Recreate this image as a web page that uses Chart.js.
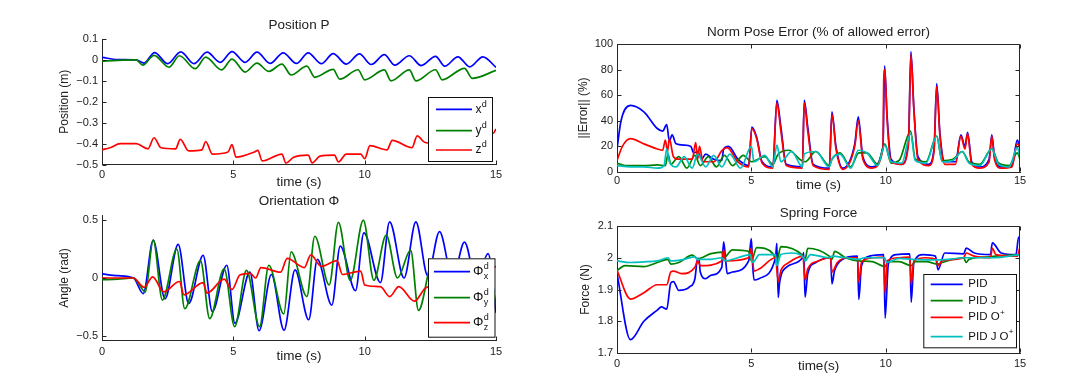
<!DOCTYPE html>
<html><head><meta charset="utf-8">
<script src="https://cdn.jsdelivr.net/npm/chart.js@4.4.1/dist/chart.umd.min.js"></script>
<style>
html,body{margin:0;padding:0;background:#fff;}
body{width:1080px;height:375px;position:relative;overflow:hidden;}
canvas{position:absolute;}
</style></head><body>
<canvas id="c1" width="540" height="195" style="left:0;top:0"></canvas>
<canvas id="c2" width="540" height="185" style="left:0;top:190px"></canvas>
<canvas id="c3" width="540" height="196" style="left:540px;top:0"></canvas>
<canvas id="c4" width="540" height="185" style="left:540px;top:190px"></canvas>
<script>
// ---------- shared axis ----------
const timeTicks = [0, 5, 10, 15];
const timeLabels = ['0', '5', '10', '15'];

// ---------- Position P ----------
const posYTicks = [-0.5, -0.4, -0.3, -0.2, -0.1, 0, 0.1];
const posYLabels = ['\u22120.5', '\u22120.4', '\u22120.3', '\u22120.2', '\u22120.1', '0', '0.1'];
const posNames = ['x', 'y', 'z'];
const posXd_t = [0, 0.6, 1.3, 1.6, 2.0, 2.5, 3.0, 3.5, 4.0, 4.5, 4.95, 5.45, 5.9, 6.4, 6.9, 7.4, 7.85, 8.35, 8.8, 9.3, 9.8, 10.25, 10.75, 11.15, 11.7, 12.15, 12.7, 13.05, 13.55, 14.0, 14.5, 15.0];
const posXd_v = [0.012, 0.002, 0.0, -0.015, 0.035, -0.018, 0.038, -0.018, 0.037, -0.012, 0.04, -0.012, 0.037, -0.017, 0.034, -0.017, 0.034, -0.018, 0.03, -0.02, 0.029, -0.022, 0.025, -0.025, 0.02, -0.027, 0.017, -0.03, 0.015, -0.033, 0.015, -0.035];
const posYd_t = [0, 0.6, 1.3, 1.55, 1.98, 2.55, 2.95, 3.55, 3.95, 4.55, 4.95, 5.45, 5.9, 6.35, 6.85, 7.2, 7.8, 8.1, 8.8, 9.05, 9.75, 10.0, 10.75, 11.0, 11.7, 11.95, 12.7, 12.95, 13.8, 14.1, 15.0];
const posYd_v = [-0.006, -0.002, 0.0, -0.025, 0.022, -0.035, 0.02, -0.042, 0.013, -0.048, 0.004, -0.058, -0.015, -0.055, -0.02, -0.072, -0.03, -0.083, -0.045, -0.092, -0.047, -0.095, -0.048, -0.1, -0.048, -0.1, -0.047, -0.095, -0.04, -0.088, -0.05];
const posZd_t = [0, 0.3, 0.7, 1.3, 1.75, 1.98, 2.25, 2.8, 2.98, 3.3, 3.8, 3.95, 4.2, 4.8, 4.95, 5.1, 5.8, 5.93, 6.1, 6.85, 7.0, 7.3, 7.85, 8.0, 8.3, 8.85, 9.0, 9.3, 9.85, 10.0, 10.2, 10.85, 11.05, 11.8, 12.0, 12.3, 12.9, 13.1, 13.9, 14.1, 14.9, 15.0];
const posZd_v = [-0.43, -0.42, -0.40, -0.40, -0.425, -0.372, -0.42, -0.425, -0.38, -0.435, -0.43, -0.39, -0.45, -0.44, -0.405, -0.465, -0.44, -0.432, -0.483, -0.45, -0.493, -0.465, -0.455, -0.492, -0.46, -0.455, -0.488, -0.45, -0.45, -0.472, -0.41, -0.43, -0.385, -0.42, -0.363, -0.395, -0.40, -0.36, -0.38, -0.345, -0.35, -0.33];

// ---------- Orientation Phi ----------
const oriYTicks = [-0.5, 0, 0.5];
const oriYLabels = ['\u22120.5', '0', '0.5'];
const oriNames = ['x', 'y', 'z'];
const oriX_t = [0, 0.6, 1.2, 1.57, 1.95, 2.4, 2.9, 3.3, 3.85, 4.2, 4.75, 5.06, 5.63, 5.98, 6.45, 6.93, 7.35, 7.87, 8.2, 8.75, 9.07, 9.65, 9.97, 10.6, 10.95, 11.5, 11.95, 12.4, 12.85, 13.35, 13.8, 14.25, 14.7, 15.0];
const oriX_v = [0.035, 0.02, 0.0, -0.135, 0.325, -0.18, 0.29, -0.22, 0.195, -0.29, 0.11, -0.39, 0.05, -0.455, 0.03, -0.45, 0.07, -0.36, 0.16, -0.235, 0.275, -0.11, 0.39, -0.04, 0.485, 0.0, 0.485, 0.02, 0.4, 0.0, 0.31, -0.02, 0.21, -0.3];
const oriY_t = [0, 0.6, 1.2, 1.65, 1.95, 2.3, 2.85, 3.15, 3.75, 4.1, 4.65, 5.05, 5.5, 6.0, 6.35, 6.92, 7.2, 7.8, 8.1, 8.65, 9.0, 9.45, 9.95, 10.35, 10.82, 11.25, 11.75, 12.05, 12.6, 13.1, 13.7, 14.2, 14.7, 15.0];
const oriY_v = [-0.015, -0.01, 0.0, -0.12, 0.33, -0.19, 0.25, -0.265, 0.15, -0.35, 0.08, -0.42, 0.065, -0.42, 0.11, -0.31, 0.225, -0.16, 0.36, -0.06, 0.48, -0.02, 0.5, -0.02, 0.37, 0.0, 0.24, -0.28, 0.15, -0.2, 0.12, -0.2, 0.1, -0.23];
const oriZ_t = [0, 1.2, 1.6, 1.93, 2.35, 2.95, 3.12, 3.85, 4.0, 4.65, 4.95, 5.25, 5.65, 5.85, 6.05, 6.8, 7.05, 7.7, 7.95, 8.35, 8.95, 9.15, 9.85, 10.0, 10.6, 10.95, 11.3, 11.9, 12.3, 13.0, 14.0, 15.0];
const oriZ_v = [0.0, 0.0, -0.08, 0.01, -0.12, -0.03, -0.145, -0.04, -0.13, -0.01, -0.1, 0.025, 0.04, 0.0, 0.09, 0.05, 0.17, 0.09, 0.2, 0.1, 0.15, 0.03, 0.06, -0.06, -0.075, -0.16, -0.075, -0.2, -0.09, -0.05, 0.0, 0.1];

// ---------- Norm Pose Error ----------
const errYTicks = [0, 20, 40, 60, 80, 100];
const errYLabels = ['0', '20', '40', '60', '80', '100'];
const errPID_t = [0,0.15,0.5,1.0,1.5,1.7,1.85,1.95,2.05,2.2,2.5,2.75,2.85,3.0,3.15,3.3,3.6,3.9,3.97,4.15,4.5,4.9,5.02,5.2,5.4,5.8,5.95,6.1,6.3,6.9,6.97,7.1,7.3,7.9,8.0,8.15,8.4,8.85,8.98,9.15,9.5,9.9,9.96,10.05,10.2,10.6,10.85,10.94,11.05,11.2,11.6,11.8,11.9,12.02,12.2,12.6,12.8,12.95,13.05,13.2,13.5,13.85,13.95,14.05,14.3,14.7,14.9,15];
const errPID_v = [18,40,52,47,34,32,37,24,29,22,21,20,15,16,10,14,10,9,18,20,10,5,35,27,8,4,56,35,6,4,56,35,6,3,47,20,3,22,43,12,4,20,83,45,10,6,25,94,50,12,6,18,69,30,8,8,29,20,31,8,4,10,29,12,4,5,25,18];
const errPIDJ_t = [0,0.3,1.0,1.5,1.8,1.9,2.0,2.3,2.6,2.9,3.1,3.4,3.7,4.0,4.3,4.7,5.0,5.5,5.8,6.0,6.4,6.8,7.0,7.4,7.9,8.0,8.3,8.7,9.0,9.3,9.7,9.97,10.2,10.5,10.93,11.1,11.5,11.9,12.1,12.5,12.85,13.1,13.5,13.95,14.2,14.6,14.9,15];
const errPIDJ_v = [7,5,5,5.5,5,14,6,12,3,13,5,12,4,13,5,13,8,12,6,14,17,10,8,16,5,10,15,4,15,15,6,22,7,9,32,10,8,28,9,10,16,8,6,18,7,5,15,10];
const errPIDO_t = [0,0.2,0.5,1.0,1.5,1.7,1.8,1.88,1.95,2.1,2.3,2.8,2.93,3.0,3.07,3.2,3.6,3.92,4.1,4.5,4.9,5.02,5.2,5.4,5.8,5.95,6.1,6.3,6.9,6.97,7.1,7.3,7.9,8.0,8.15,8.4,8.85,8.98,9.15,9.5,9.9,9.93,9.97,10.05,10.2,10.6,10.85,10.94,11.05,11.2,11.6,11.8,11.9,12.02,12.2,12.6,12.8,12.95,13.05,13.2,13.5,13.85,13.95,14.05,14.3,14.7,14.9,15];
const errPIDO_v = [9,20,26,22,18,17,25,16,26,12,10,10,23,10,20,8,8,17,19,8,4,34,26,7,3,54,32,5,3,54,32,5,2,45,18,2,20,40,10,3,18,73,80,42,8,6,22,92,48,10,5,16,67,28,6,6,28,18,30,6,3,8,28,10,3,4,22,20];
const errPIDJO_t = [0,0.5,1.0,1.5,1.75,1.85,1.95,2.2,2.5,2.8,3.0,3.3,3.6,3.9,4.2,4.6,5.0,5.1,5.5,5.8,5.95,6.1,6.5,6.9,6.97,7.4,7.9,8.0,8.3,8.7,8.98,9.3,9.7,9.97,10.2,10.6,10.93,11.1,11.5,11.9,12.1,12.5,12.85,13.1,13.5,13.95,14.2,14.6,14.9,15];
const errPIDJO_v = [5,4,4,3,5,18,8,4,12,3,14,4,13,4,14,3,20,8,13,4,21,8,16,4,14,16,4,10,14,3,17,15,5,21,8,7,30,9,7,28,8,9,16,7,5,18,6,4,19,12];

// ---------- Spring Force ----------
const sfYTicks = [1.7, 1.8, 1.9, 2.0, 2.1];
const sfYLabels = ['1.7', '1.8', '1.9', '2', '2.1'];
const ctrlNames = ['PID', 'PID J', 'PID O', 'PID J O'];
const sfPID_t = [0,0.5,1.0,1.5,1.65,1.85,2.0,2.1,2.3,2.7,2.9,3.0,3.05,3.1,3.3,3.5,3.9,3.97,4.05,4.1,4.3,4.9,5.0,5.05,5.1,5.3,5.9,5.95,6.0,6.05,6.3,6.9,6.95,7.0,7.1,7.4,7.95,8.0,8.1,8.4,8.95,9.0,9.1,9.4,9.93,9.98,10.1,10.4,10.9,10.95,11.05,11.4,11.85,11.95,12.2,12.9,13.0,13.3,13.9,13.97,14.3,14.85,14.95,15];
const sfPID_v = [1.95,1.742,1.80,1.835,1.845,1.838,1.92,1.925,1.897,1.908,1.934,1.997,1.997,1.955,1.934,1.945,1.97,2.05,1.987,1.95,1.955,1.99,2.06,1.975,1.93,1.935,2.0,2.045,1.875,1.92,1.97,2.0,2.016,1.876,1.95,1.985,2.0,1.918,1.96,1.995,2.005,1.869,1.975,2.005,2.01,1.81,1.98,2.01,2.012,1.86,1.985,2.01,2.005,1.962,2.015,2.012,2.03,2.015,2.01,2.047,2.015,2.01,2.065,2.06];
const sfPIDJ_t = [0,0.3,1.0,1.5,1.9,2.0,2.3,2.8,3.0,3.5,3.9,3.97,4.3,4.9,5.0,5.2,5.8,5.95,6.1,6.9,7.0,7.1,7.9,8.0,8.1,8.5,9.0,9.5,9.97,10.1,10.5,10.95,11.1,11.5,11.95,12.1,12.9,13.0,13.1,13.9,14.1,15];
const sfPIDJ_v = [1.96,1.975,1.972,1.985,1.995,1.98,1.985,2.008,1.997,2.013,2.018,2.0,2.025,2.02,1.99,2.032,2.013,1.99,2.035,2.008,1.995,2.03,2.005,1.995,2.02,2.0,1.99,1.988,1.972,1.988,1.988,1.975,1.988,1.988,1.98,1.985,2.0,1.985,1.995,2.003,2.005,2.01];
const sfPIDO_t = [0,0.5,1.0,1.5,1.85,2.0,2.1,2.4,2.9,3.0,3.1,3.9,3.97,4.05,4.9,5.0,5.1,5.3,5.9,6.0,6.1,6.4,6.92,7.0,7.1,7.5,7.95,8.0,8.2,8.6,8.95,9.0,9.1,9.5,9.92,9.98,10.05,10.5,10.9,10.95,11.05,11.5,11.88,11.95,12.1,12.9,13.0,13.3,13.9,13.97,14.1,14.9,15];
const sfPIDO_v = [1.96,1.87,1.89,1.915,1.915,1.955,1.958,1.95,1.97,1.99,1.975,1.99,2.025,1.99,2.0,2.03,1.958,1.965,2.0,1.925,1.96,1.985,2.005,1.93,1.965,1.99,2.0,1.955,1.985,2.0,2.0,1.925,1.985,2.0,2.002,1.888,1.99,2.0,2.002,1.918,1.99,2.0,1.995,1.975,1.99,2.0,2.015,2.005,2.0,2.03,2.01,2.005,2.035];
const sfPIDJO_t = [0,0.5,1.0,1.5,1.9,2.0,2.5,2.9,3.0,3.5,3.9,4.0,4.5,4.95,5.05,5.3,5.9,5.95,6.1,6.5,6.95,7.0,7.2,7.9,8.0,8.5,9.0,9.2,9.97,10.03,10.5,11.0,12.0,13.0,14.0,15];
const sfPIDJO_v = [1.99,1.985,1.987,1.99,2.0,1.99,1.995,2.003,1.995,1.995,2.0,1.99,2.0,2.01,1.985,2.01,2.01,1.975,2.01,2.015,2.0,1.99,2.01,2.0,2.005,2.0,1.995,2.0,2.0,1.985,1.998,1.995,1.993,2.0,2.0,2.01];

// ---------- styling / helpers ----------
const BLUE = '#0000ff', GREEN = '#008000', RED = '#ff0000', CYAN = '#00bfbf';
const INK = '#222';
Chart.defaults.font.family = "'Liberation Sans', Arial, Helvetica, sans-serif";
Chart.defaults.color = INK;

function pts(t, v) { return t.map((x, i) => ({ x: x, y: v[i] })); }
function series(label, t, v, color, order) {
  return { label: label, data: pts(t, v), borderColor: color, backgroundColor: color,
    borderWidth: 1.7, pointRadius: 0, cubicInterpolationMode: 'monotone', fill: false, order: order };
}

function axesPlugin(box) {
  return { id: 'mlaxes', afterDatasetsDraw(chart) {
    const ctx = chart.ctx, a = chart.chartArea, sx = chart.scales.x, sy = chart.scales.y;
    const L = Math.round(a.left) + 0.5, R = Math.round(a.right) - 0.5;
    const T = Math.round(a.top) + 0.5, B = Math.round(a.bottom) - 0.5;
    const tl = 4;
    ctx.save();
    ctx.strokeStyle = '#262626'; ctx.lineWidth = 1;
    ctx.beginPath();
    if (box) { ctx.moveTo(L, T); ctx.lineTo(R, T); ctx.lineTo(R, B + 1); }
    sx.ticks.forEach(t => {
      const p = Math.round(sx.getPixelForValue(t.value)) + 0.5;
      ctx.moveTo(p, B); ctx.lineTo(p, B - tl);
      if (box) { ctx.moveTo(p, T); ctx.lineTo(p, T + tl); }
    });
    sy.ticks.forEach(t => {
      const p = Math.round(sy.getPixelForValue(t.value)) + 0.5;
      ctx.moveTo(L, p); ctx.lineTo(L + tl, p);
      if (box) { ctx.moveTo(R, p); ctx.lineTo(R - tl, p); }
    });
    ctx.stroke();
    ctx.restore();
  }};
}

function legendPlugin(c) {
  return { id: 'mlegend', afterDraw(chart) {
    if (!c) return;
    const ctx = chart.ctx;
    ctx.save();
    ctx.fillStyle = '#fff';
    ctx.fillRect(c.x, c.y, c.w, c.h);
    ctx.strokeStyle = '#111'; ctx.lineWidth = 1;
    ctx.strokeRect(c.x + 0.5, c.y + 0.5, c.w, c.h);
    c.rows.forEach((r, i) => {
      const y = c.rowY[i];
      ctx.strokeStyle = r.color; ctx.lineWidth = 1.7;
      ctx.beginPath(); ctx.moveTo(c.x1, y); ctx.lineTo(c.x2, y); ctx.stroke();
      ctx.fillStyle = '#111'; ctx.textAlign = 'left'; ctx.textBaseline = 'middle';
      ctx.font = c.font;
      ctx.fillText(r.text, c.tx, y);
      const w = ctx.measureText(r.text).width;
      ctx.font = c.smallFont;
      if (r.sup) ctx.fillText(r.sup, c.tx + w + c.gap, y - c.supDy);
      if (r.sub) ctx.fillText(r.sub, c.tx + w + c.gap, y + c.subDy);
    });
    ctx.restore();
  }};
}

function makeChart(id, c) {
  const plugins = [axesPlugin(c.box)];
  if (c.legend) plugins.push(legendPlugin(c.legend));
  return new Chart(document.getElementById(id), {
    type: 'line',
    data: { datasets: c.datasets },
    options: {
      responsive: false, animation: false, devicePixelRatio: 1, events: [],
      layout: { padding: { left: c.padL, right: c.padR, top: 0, bottom: 0 } },
      plugins: {
        legend: { display: false }, tooltip: { enabled: false },
        title: { display: true, text: c.title, fullSize: false, color: INK,
          font: { size: 13.5, weight: 'normal' }, padding: { top: c.tPadT, bottom: c.tPadB } }
      },
      scales: {
        x: {
          type: 'linear', min: 0, max: 15,
          afterBuildTicks: s => { s.ticks = timeTicks.map(v => ({ value: v })); },
          afterFit: s => { s.height = c.xH; },
          grid: { display: false, drawTicks: false },
          border: { display: true, color: '#262626', width: 1 },
          ticks: { padding: c.xTickPad, maxRotation: 0, autoSkip: false, color: INK,
            font: { size: 11 }, callback: (v, i) => timeLabels[i] },
          title: { display: true, text: c.xTitle, color: INK, font: { size: 13.5 },
            padding: { top: 0, bottom: c.xTitlePad } }
        },
        y: {
          type: 'linear', min: c.yMin, max: c.yMax,
          afterBuildTicks: s => { s.ticks = c.yTicks.map(v => ({ value: v })); },
          afterFit: s => { s.width = c.yW; },
          grid: { display: false, drawTicks: false },
          border: { display: true, color: '#262626', width: 1 },
          ticks: { padding: 4, autoSkip: false, color: INK, font: { size: 11 },
            callback: (v, i) => c.yLabels[i] },
          title: { display: true, text: c.yTitle, color: INK, font: { size: 12 },
            padding: { top: 0, bottom: 0 } }
        }
      }
    },
    plugins: plugins
  });
}

// ---------- Position P ----------
makeChart('c1', {
  title: 'Position P', tPadT: 17.6, tPadB: 5.2,
  xTitle: 'time (s)', xTitlePad: 4.2, xH: 30.5, xTickPad: 3.7,
  yTitle: 'Position (m)', yW: 44.5, padL: 57.5, padR: 44,
  yMin: -0.5, yMax: 0.1, yTicks: posYTicks, yLabels: posYLabels, box: false,
  datasets: [
    series('x d', posXd_t, posXd_v, BLUE, 3),
    series('y d', posYd_t, posYd_v, GREEN, 2),
    series('z d', posZd_t, posZd_v, RED, 1)
  ],
  legend: { x: 428, y: 97, w: 64, h: 64, x1: 436, x2: 472, tx: 475.5, rowY: [109.3, 130.7, 150],
    font: "12px 'Liberation Sans', Arial, sans-serif", smallFont: "9px 'Liberation Sans', Arial, sans-serif",
    gap: 0.3, supDy: 5, subDy: 5,
    rows: [ { color: BLUE, text: posNames[0], sup: 'd' }, { color: GREEN, text: posNames[1], sup: 'd' }, { color: RED, text: posNames[2], sup: 'd' } ] }
});

// ---------- Orientation Phi ----------
makeChart('c2', {
  title: 'Orientation \u03A6', tPadT: 2.9, tPadB: 6.3,
  xTitle: 'time (s)', xTitlePad: 10.2, xH: 34.4, xTickPad: 4.7,
  yTitle: 'Angle (rad)', yW: 44.5, padL: 57.5, padR: 44,
  yMin: -0.54, yMax: 0.54, yTicks: oriYTicks, yLabels: oriYLabels, box: false,
  datasets: [
    series('Phi x d', oriX_t, oriX_v, BLUE, 3),
    series('Phi y d', oriY_t, oriY_v, GREEN, 2),
    series('Phi z d', oriZ_t, oriZ_v, RED, 1)
  ],
  legend: { x: 428, y: 68.3, w: 66.5, h: 78.4, x1: 434, x2: 470, tx: 473, rowY: [81.7, 107.7, 132.7],
    font: "13px 'Liberation Sans', Arial, sans-serif", smallFont: "9px 'Liberation Sans', Arial, sans-serif",
    gap: 0.5, supDy: 5.5, subDy: 5,
    rows: [ { color: BLUE, text: '\u03A6', sup: 'd', sub: oriNames[0] }, { color: GREEN, text: '\u03A6', sup: 'd', sub: oriNames[1] }, { color: RED, text: '\u03A6', sup: 'd', sub: oriNames[2] } ] }
});

// ---------- Norm Pose Error ----------
makeChart('c3', {
  title: 'Norm Pose Error (% of allowed error)', tPadT: 23.9, tPadB: 3.9,
  xTitle: 'time (s)', xTitlePad: 2.9, xH: 24, xTickPad: 2.7,
  yTitle: '||Error|| (%)', yW: 40.5, padL: 36.5, padR: 60,
  yMin: 0, yMax: 100, yTicks: errYTicks, yLabels: errYLabels, box: true,
  datasets: [
    series(ctrlNames[0], errPID_t, errPID_v, BLUE, 4),
    series(ctrlNames[1], errPIDJ_t, errPIDJ_v, GREEN, 3),
    series(ctrlNames[2] + '+', errPIDO_t, errPIDO_v, RED, 2),
    series(ctrlNames[3] + '+', errPIDJO_t, errPIDJO_v, CYAN, 1)
  ],
  legend: null
});

// ---------- Spring Force ----------
makeChart('c4', {
  title: 'Spring Force', tPadT: 14.7, tPadB: 5.1,
  xTitle: 'time(s)', xTitlePad: 0.2, xH: 22, xTickPad: 4.2,
  yTitle: 'Force (N)', yW: 39, padL: 38, padR: 60,
  yMin: 1.7, yMax: 2.1, yTicks: sfYTicks, yLabels: sfYLabels, box: true,
  datasets: [
    series(ctrlNames[0], sfPID_t, sfPID_v, BLUE, 4),
    series(ctrlNames[1], sfPIDJ_t, sfPIDJ_v, GREEN, 3),
    series(ctrlNames[2] + '+', sfPIDO_t, sfPIDO_v, RED, 2),
    series(ctrlNames[3] + '+', sfPIDJO_t, sfPIDJO_v, CYAN, 1)
  ],
  legend: { x: 383.3, y: 84, w: 92.7, h: 73.3, x1: 390.7, x2: 422.7, tx: 428.3, rowY: [94.3, 110.7, 127.3, 146.7],
    font: "11.5px 'Liberation Sans', Arial, sans-serif", smallFont: "8px 'Liberation Sans', Arial, sans-serif",
    gap: 0.3, supDy: 4.5, subDy: 4,
    rows: [ { color: BLUE, text: ctrlNames[0] }, { color: GREEN, text: ctrlNames[1] }, { color: RED, text: ctrlNames[2], sup: '+' }, { color: CYAN, text: ctrlNames[3], sup: '+' } ] }
});
</script>
</body></html>
